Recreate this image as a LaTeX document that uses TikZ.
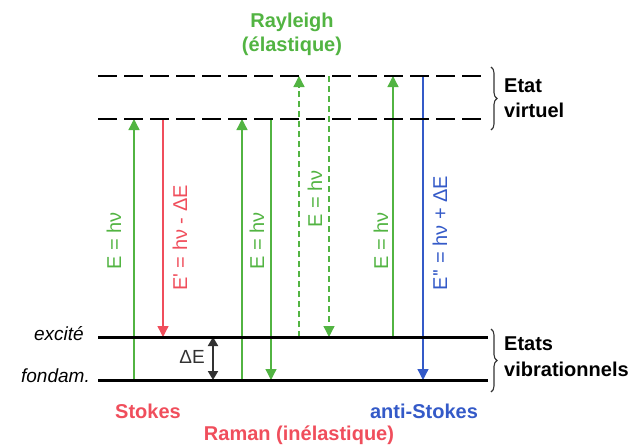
\documentclass[tikz,border=0pt]{standalone}
\usepackage{fontspec}
\setmainfont{Liberation Sans}
\usetikzlibrary{arrows.meta,decorations.pathreplacing}
\definecolor{cgreen}{RGB}{82,180,66}
\definecolor{cred}{RGB}{240,78,92}
\definecolor{cblue}{RGB}{52,90,200}
\definecolor{cdark}{RGB}{50,50,50}
\tikzset{
  level/.style={line width=3pt,black},
  vlevel/.style={line width=2.6pt,black,dash pattern=on 19pt off 7pt},
  trans/.style={line width=1.3pt,-{Triangle[length=11pt,width=11pt]}},
  dtrans/.style={trans,dash pattern=on 6pt off 4pt},
  lab/.style={font=\fontsize{20}{22}\selectfont,rotate=90,inner sep=0pt},
  head/.style={font=\fontsize{20}{23}\selectfont\bfseries,inner sep=0pt},
  side/.style={font=\fontsize{20}{23}\selectfont\bfseries,inner sep=0pt,anchor=west},
  lvlname/.style={font=\fontsize{19}{22}\selectfont\itshape,inner sep=0pt,anchor=east},
  bracestyle/.style={decorate,decoration={brace,amplitude=6pt},line width=1.1pt,cdark}
}
\begin{document}
\begin{tikzpicture}[x=1pt,y=-1pt]
\useasboundingbox (0,0) rectangle (641,447);
% level coordinates
\coordinate (v2L) at (98,76);  \coordinate (v2R) at (488,76);
\coordinate (v1L) at (98,119); \coordinate (v1R) at (488,119);
\coordinate (exL) at (98,337); \coordinate (exR) at (488,337);
\coordinate (fdL) at (98,380); \coordinate (fdR) at (488,380);
% transition endpoints
\coordinate (a1b) at (134,380); \coordinate (a1t) at (134,119);
\coordinate (a2t) at (163,119); \coordinate (a2b) at (163,337);
\coordinate (a3b) at (242,380); \coordinate (a3t) at (242,119);
\coordinate (a4t) at (271,119); \coordinate (a4b) at (271,380);
\coordinate (a5b) at (299,337); \coordinate (a5t) at (299,76);
\coordinate (a6t) at (329,76);  \coordinate (a6b) at (329,337);
\coordinate (a7b) at (393,337); \coordinate (a7t) at (393,76);
\coordinate (a8t) at (423,76);  \coordinate (a8b) at (423,380);
\coordinate (deT) at (213,337); \coordinate (deB) at (213,380);
% transitions
\draw[trans,cgreen] (a1b) -- (a1t);
\draw[trans,cred] (a2t) -- (a2b);
\draw[trans,cgreen] (a3b) -- (a3t);
\draw[trans,cgreen] (a4t) -- (a4b);
\draw[dtrans,cgreen] (a5b) -- (a5t);
\draw[dtrans,cgreen] (a6t) -- (a6b);
\draw[trans,cgreen] (a7b) -- (a7t);
\draw[trans,cblue] (a8t) -- (a8b);
\draw[line width=2pt,cdark,{Triangle[length=9pt,width=10pt]}-{Triangle[length=9pt,width=10pt]}] (deT) -- (deB);
% levels
\draw[vlevel] (v2L) -- (v2R);
\draw[vlevel] (v1L) -- (v1R);
\draw[level] (exL) -- (exR);
\draw[level] (fdL) -- (fdR);
% transition labels
\node[lab,cgreen] (l1) at (114,241) {E = hν};
\node[lab,cred] (l2) at (180,238) {E\textquotesingle{} = hν - ΔE};
\node[lab,cgreen] (l3) at (257,241) {E = hν};
\node[lab,cgreen] (l5) at (315,199) {E = hν};
\node[lab,cgreen] (l7) at (381,241) {E = hν};
\node[lab,cblue] (l8) at (440,233) {E\textquotesingle\textquotesingle{} = hν + ΔE};
\node[font=\fontsize{19}{22}\selectfont,inner sep=0pt,cdark] (de) at (192,357) {ΔE};
% level names
\node[lvlname] (exc) at (84,334) {excité};
\node[lvlname] (fon) at (90,376) {fondam.};
% braces
\draw[bracestyle] (491,67) -- (491,130);
\draw[bracestyle] (491,329) -- (491,392);
\node[side] (et1) at (504,86) {Etat};
\node[side] (et2) at (504,110) {virtuel};
\node[side] (ev1) at (504,344) {Etats};
\node[side] (ev2) at (504,369) {vibrationnels};
% headings
\node[head,cgreen] (ray1) at (292,22) {Rayleigh};
\node[head,cgreen] (ray2) at (292,46) {(élastique)};
\node[head,cred] (sto) at (148,411) {Stokes};
\node[head,cblue] (ast) at (424,411) {anti-Stokes};
\node[head,cred] (ram) at (299,435) {Raman (inélastique)};
\end{tikzpicture}
\end{document}
